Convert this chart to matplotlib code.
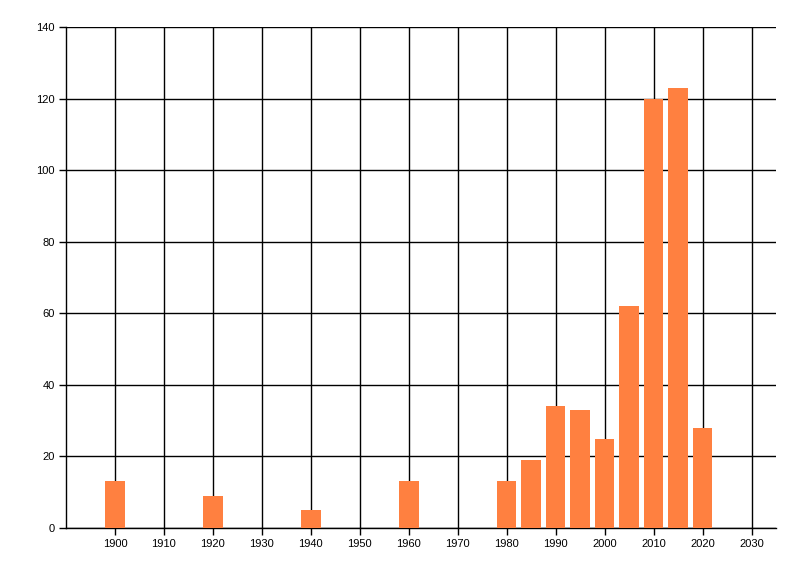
import numpy as np
import matplotlib
matplotlib.use("Agg")
import matplotlib.pyplot as plt

# values
years = [1900, 1920, 1940, 1960, 1980, 1985, 1990, 1995, 2000, 2005, 2010, 2015, 2020]
counts = [13, 9, 5, 13, 13, 19, 34, 33, 25, 62, 120, 123, 28]
x_ticks = list(range(1900, 2031, 10))
y_ticks = list(range(0, 141, 20))

plt.rcParams['font.family'] = ['Liberation Sans', 'DejaVu Sans']

fig = plt.figure(figsize=(8, 5.76), dpi=100)
ax = fig.add_axes([66/800, 48/576, 710/800, 501/576])

ax.bar(years, counts, width=4, color='#ff8040', zorder=3)

ax.set_xlim(1890, 2035)
ax.set_ylim(0, 140)
ax.set_xticks(x_ticks)
ax.set_yticks(y_ticks)
ax.grid(True, color='black', lw=1, zorder=1)
ax.set_axisbelow(True)

for side in ['top', 'right']:
    ax.spines[side].set_visible(False)
for side in ['left', 'bottom']:
    ax.spines[side].set_linewidth(1)

ax.tick_params(axis='both', direction='out', length=5, width=1, labelsize=8, colors='black', pad=3)

fig.savefig('out.png', dpi=100)
